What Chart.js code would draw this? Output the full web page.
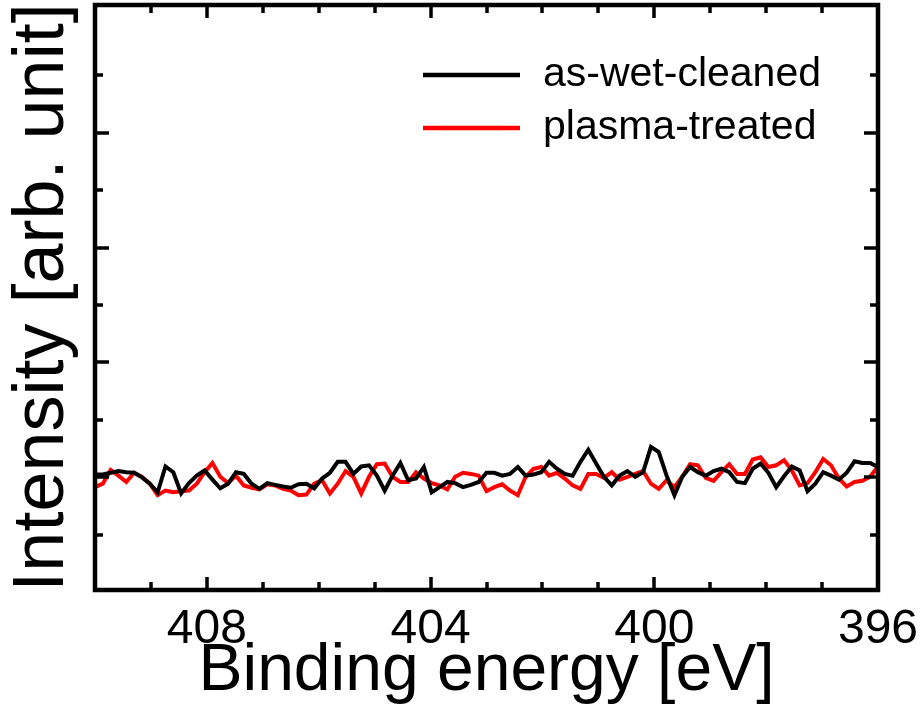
<!DOCTYPE html>
<html><head><meta charset="utf-8">
<script src="https://cdn.jsdelivr.net/npm/chart.js@4/dist/chart.umd.min.js"></script>
<style>html,body{margin:0;padding:0;background:#fff;}</style>
</head><body>
<canvas id="c" width="923" height="718"></canvas>
<script>
// Binding energy grid (eV)
const energies = [410,409.86,409.72,409.58,409.44,409.3,409.16,409.02,408.88,408.74,408.6,408.46,408.32,408.18,408.04,407.9,407.76,407.62,407.48,407.34,407.2,407.06,406.92,406.78,406.64,406.5,406.36,406.22,406.08,405.94,405.8,405.66,405.52,405.38,405.24,405.1,404.96,404.82,404.68,404.54,404.4,404.26,404.12,403.98,403.84,403.7,403.56,403.42,403.28,403.14,403,402.86,402.72,402.58,402.44,402.3,402.16,402.02,401.88,401.74,401.6,401.46,401.32,401.18,401.04,400.9,400.76,400.62,400.48,400.34,400.2,400.06,399.92,399.78,399.64,399.5,399.36,399.22,399.08,398.94,398.8,398.66,398.52,398.38,398.24,398.1,397.96,397.82,397.68,397.54,397.4,397.26,397.12,396.98,396.84,396.7,396.56,396.42,396.28,396.14,396];
const asWetCleaned = [2.05,2.05,2.08,2.11,2.09,2.08,2.00,1.89,1.74,2.19,2.09,1.72,1.90,2.03,2.12,1.96,1.81,1.89,2.09,2.06,1.89,1.80,1.90,1.87,1.84,1.82,1.88,1.89,1.81,1.98,2.08,2.27,2.27,2.06,2.19,2.21,2.03,1.77,2.03,2.25,1.95,1.98,2.18,1.74,1.83,1.92,1.90,1.83,1.87,1.92,2.08,2.08,2.03,2.06,2.18,2.03,2.05,2.09,2.27,2.15,2.06,2.03,2.27,2.48,2.24,2.01,1.86,2.03,2.11,2.01,2.09,2.53,2.44,2.03,1.69,2.01,2.18,2.09,2.03,2.11,2.15,2.09,1.92,1.90,2.15,2.24,2.08,1.83,2.02,2.19,2.12,1.76,1.89,2.09,2.03,1.96,2.08,2.28,2.25,2.25,2.18];
const plasmaTreated = [1.83,1.89,2.13,2.03,1.92,2.08,2.01,1.89,1.69,1.77,1.74,1.76,1.77,1.89,2.09,2.25,2.01,1.90,2.03,1.86,1.82,1.79,1.88,1.86,1.80,1.77,1.69,1.70,1.89,1.95,1.72,1.89,2.11,2.01,1.72,2.01,2.23,2.24,2.01,1.92,1.92,2.09,1.98,1.90,1.86,1.79,2.01,2.08,2.06,2.03,1.76,1.83,1.88,1.77,1.69,2.01,2.15,2.18,2.03,2.08,1.98,1.86,1.80,2.06,2.06,1.99,2.09,1.96,2.01,2.06,2.11,1.89,1.80,1.95,1.83,2.01,2.23,2.21,1.99,1.94,2.09,2.23,2.06,2.06,2.31,2.35,2.18,2.21,2.30,2.12,1.86,1.90,2.09,2.32,2.21,1.98,1.84,1.92,1.94,2.01,2.19];
const seriesNames = ['as-wet-cleaned','plasma-treated'];
const xLabelTicks = [396,400,404,408];
const xMinorTicks = [397,398,399,401,402,403,405,406,407,409];
const yMajorTicks = [2,4,6,8];
const yMinorTicks = [1,3,5,7,9];

const toPts = ys => ys.map((v,i)=>({x:energies[i], y:v}));
const FONT = '"Liberation Sans", Arial, sans-serif';

const frame = {
  id:'frame',
  afterDatasetsDraw(chart){
    const {ctx, chartArea:a, scales:{x,y}} = chart;
    ctx.save();
    ctx.strokeStyle='#000';
    ctx.lineCap='butt';
    ctx.lineWidth=3.5;
    const xt=(vals,len)=>vals.forEach(v=>{const p=Math.round(x.getPixelForValue(v));
      ctx.beginPath();ctx.moveTo(p,a.bottom);ctx.lineTo(p,a.bottom-len);ctx.moveTo(p,a.top);ctx.lineTo(p,a.top+len);ctx.stroke();});
    const yt=(vals,len)=>vals.forEach(v=>{const p=Math.round(y.getPixelForValue(v));
      ctx.beginPath();ctx.moveTo(a.left,p);ctx.lineTo(a.left+len,p);ctx.moveTo(a.right,p);ctx.lineTo(a.right-len,p);ctx.stroke();});
    xt(xLabelTicks,13); xt(xMinorTicks,8);
    yt(yMajorTicks,14); yt(yMinorTicks,8);
    ctx.lineWidth=4.5;
    ctx.strokeRect(a.left,a.top,a.width,a.height);
    // legend
    ctx.font='41px '+FONT;
    ctx.textBaseline='middle';
    ctx.fillStyle='#000';
    chart.data.datasets.forEach((d,i)=>{
      const yy=a.top+70+i*53;
      ctx.strokeStyle=d.borderColor; ctx.lineWidth=4.5;
      ctx.beginPath();ctx.moveTo(a.left+328,yy);ctx.lineTo(a.left+425,yy);ctx.stroke();
      ctx.fillText(d.label,a.left+448,yy);
    });
    ctx.restore();
  }
};

new Chart(document.getElementById('c'),{
  type:'line',
  data:{datasets:[
    {label:seriesNames[0],data:toPts(asWetCleaned),borderColor:'#000000',borderWidth:4,pointRadius:0,tension:0},
    {label:seriesNames[1],data:toPts(plasmaTreated),borderColor:'#ff0000',borderWidth:4,pointRadius:0,tension:0}
  ]},
  options:{
    responsive:false,animation:false,devicePixelRatio:1,
    layout:{padding:{left:0,right:45,top:5,bottom:0}},
    plugins:{legend:{display:false},tooltip:{enabled:false}},
    scales:{
      x:{type:'linear',reverse:true,min:396,max:410,
        afterBuildTicks:s=>{s.ticks=xLabelTicks.map(v=>({value:v}));},
        afterFit:s=>{s.height=128;},
        grid:{display:false},border:{display:false},
        ticks:{autoSkip:false,maxRotation:0,padding:3,color:'#000',font:{family:FONT,size:48}},
        title:{display:true,text:'Binding energy [eV]',color:'#000',font:{family:FONT,size:66,lineHeight:1},padding:{top:0,bottom:13}}
      },
      y:{type:'linear',min:0.04,max:10.22,
        afterFit:s=>{s.width=95;},
        grid:{display:false},border:{display:false},
        ticks:{display:false},
        title:{display:true,text:'Intensity [arb. unit]',color:'#000',font:{family:FONT,size:72,lineHeight:1},padding:{top:7,bottom:0}}
      }
    }
  },
  plugins:[frame]
});
</script>
</body></html>
